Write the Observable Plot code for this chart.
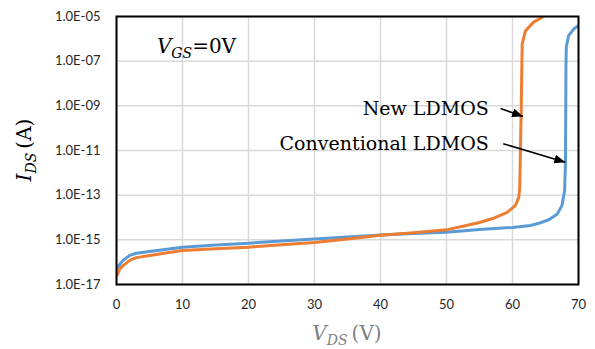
<!DOCTYPE html>
<html><head><meta charset="utf-8">
<script src="https://cdn.jsdelivr.net/npm/d3@7"></script>
<script src="https://cdn.jsdelivr.net/npm/@observablehq/plot@0.6"></script>
<style>
html,body{margin:0;padding:0;background:#fff;}
</style></head><body><div id="chart"></div>
<script>
// Conventional LDMOS (blue)
const vConv = [0, 0.5, 1, 2, 3, 5, 10, 15, 20, 25, 30, 35, 40, 45, 50, 55, 60, 62.7, 64, 65.5, 66.8, 67.5, 67.9, 68.03, 68.1, 68.15, 68.5, 69.3, 70];
const iConv = [5.2e-17, 8e-17, 1.2e-16, 2.0e-16, 2.5e-16, 3.0e-16, 4.7e-16, 5.8e-16, 7.1e-16, 8.8e-16, 1.1e-15, 1.35e-15, 1.65e-15, 1.9e-15, 2.2e-15, 2.9e-15, 3.6e-15, 4.4e-15, 5.5e-15, 7.9e-15, 1.45e-14, 3.5e-14, 1.6e-13, 3.5e-12, 5.4e-8, 4.3e-7, 1.4e-6, 2.8e-6, 4e-6];
// New LDMOS (orange)
const vNew = [0, 0.5, 1, 2, 3, 5, 10, 15, 20, 25, 30, 35, 40, 45, 50, 55, 57, 59.2, 60.45, 60.95, 61.1, 61.3, 61.47, 61.97, 63.2, 64.7];
const iNew = [2.3e-17, 5e-17, 7e-17, 1.2e-16, 1.6e-16, 2.0e-16, 3.3e-16, 4e-16, 4.7e-16, 6e-16, 7.6e-16, 1.1e-15, 1.6e-15, 2.1e-15, 2.8e-15, 6e-15, 9e-15, 1.7e-14, 3.5e-14, 8e-14, 2.3e-13, 3.1e-10, 6e-7, 2.3e-6, 5.6e-6, 1e-5];

const xTicks = [0, 10, 20, 30, 40, 50, 60, 70];
const yTicks = [1e-17, 1e-15, 1e-13, 1e-11, 1e-9, 1e-7, 1e-5];

const labelText = ["New LDMOS", "Conventional LDMOS"];
const labelX = [56.4, 56.4];
const labelY = [7.6e-10, 2e-11];
const arrowX1 = [58.2, 58.6];
const arrowY1 = [7.6e-10, 2e-11];
const arrowX2 = [61.6, 68.0];
const arrowY2 = [3.3e-10, 3e-12];

const vgsX = 6.2, vgsY = 4.5e-7;

const conv = vConv.map((v, k) => ({v, i: iConv[k]}));
const nw = vNew.map((v, k) => ({v, i: iNew[k]}));
const labels = labelText.map((t, k) => ({t, x: labelX[k], y: labelY[k]}));
const arrows = arrowX1.map((x1, k) => ({x1, y1: arrowY1[k], x2: arrowX2[k], y2: arrowY2[k]}));

const fmt = d => "1.0E-" + String(Math.round(-Math.log10(d))).padStart(2, "0");

const plot = Plot.plot({
  width: 595, height: 349,
  marginLeft: 116, marginRight: 17, marginTop: 16, marginBottom: 65,
  style: {fontFamily: "Lato", fontSize: "13px", color: "#262626", background: "white"},
  x: {domain: [0, 70]},
  y: {type: "log", domain: [1e-17, 1e-5]},
  marks: [
    Plot.gridX(xTicks, {stroke: "#d9d9d9", strokeOpacity: 1, strokeWidth: 1.5}),
    Plot.gridY(yTicks, {stroke: "#d9d9d9", strokeOpacity: 1, strokeWidth: 1.5}),
    Plot.axisX(xTicks, {tickSize: 0, tickPadding: 15, label: null, fontSize: 13}),
    Plot.axisY(yTicks, {tickSize: 0, tickPadding: 16, label: null, tickFormat: fmt, fontSize: 13}),
    Plot.line(conv, {x: "v", y: "i", stroke: "#5B9BD5", strokeWidth: 3, clip: true}),
    Plot.line(nw, {x: "v", y: "i", stroke: "#ED7D31", strokeWidth: 3, clip: true}),
    Plot.frame({stroke: "black", strokeWidth: 2}),
    Plot.link(arrows, {x1: "x1", y1: "y1", x2: "x2", y2: "y2", stroke: "black", strokeWidth: 1.6}),
    Plot.text(labels, {x: "x", y: "y", text: "t", textAnchor: "end", fontFamily: "DejaVu Serif", fontSize: 19, fill: "black"})
  ]
});

document.getElementById("chart").appendChild(plot);

const svg = d3.select(plot);
const sx = plot.scale("x"), sy = plot.scale("y");

const defs = svg.append("defs");
defs.append("marker").attr("id", "ah").attr("viewBox", "0 0 11 9")
  .attr("refX", 11).attr("refY", 4.5).attr("markerWidth", 11).attr("markerHeight", 9)
  .attr("markerUnits", "userSpaceOnUse").attr("orient", "auto")
  .append("path").attr("d", "M0,0L11,4.5L0,9Z").attr("fill", "black");
svg.selectAll('g[aria-label="link"] path').attr("marker-end", "url(#ah)");

// V_GS = 0V label
const vg = svg.append("text").attr("x", sx.apply(vgsX)).attr("y", sy.apply(vgsY)).attr("dy", "0.35em")
  .attr("text-anchor", "start")
  .attr("font-family", "DejaVu Serif").attr("font-size", 20).attr("fill", "black");
vg.append("tspan").attr("font-style", "italic").text("V");
vg.append("tspan").attr("font-style", "italic").attr("font-size", 14).attr("dy", 5).text("GS");
vg.append("tspan").attr("dy", -5).text("=0V");

// Y axis title
const yl = svg.append("text").attr("transform", `translate(31,${(16 + 284) / 2}) rotate(-90)`)
  .attr("text-anchor", "middle").attr("font-family", "DejaVu Serif").attr("font-size", 20).attr("fill", "black");
yl.append("tspan").attr("font-style", "italic").text("I");
yl.append("tspan").attr("font-style", "italic").attr("font-size", 14).attr("dy", 5).text("DS");
yl.append("tspan").attr("dy", -5).text("\u2009(A)");

// X axis title
const xl = svg.append("text").attr("x", (116 + 578) / 2).attr("y", 340)
  .attr("text-anchor", "middle").attr("font-family", "DejaVu Serif").attr("font-size", 20).attr("fill", "#7f7f7f");
xl.append("tspan").attr("font-style", "italic").text("V");
xl.append("tspan").attr("font-style", "italic").attr("font-size", 14).attr("dy", 5).text("DS");
xl.append("tspan").attr("dy", -5).text("\u2009(V)");
</script>
</body></html>
